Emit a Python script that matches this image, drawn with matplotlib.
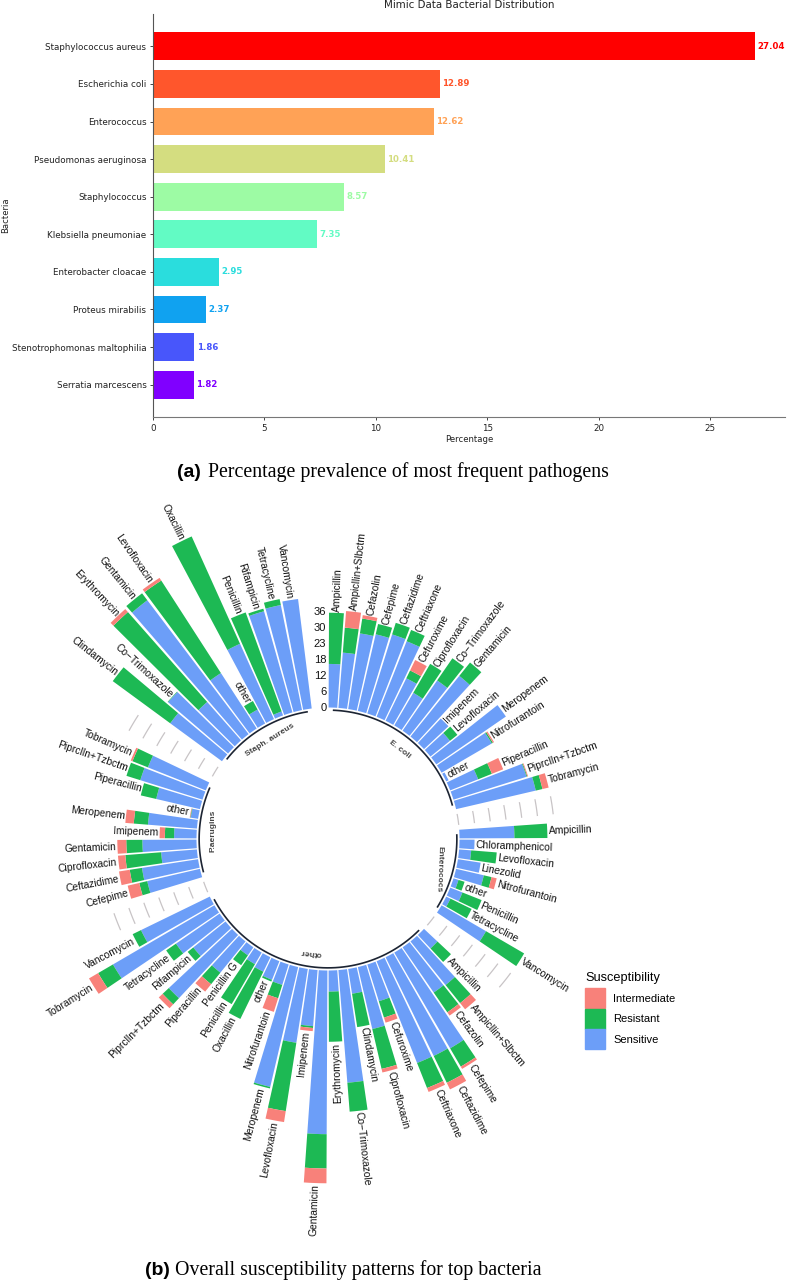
import numpy as np
import matplotlib
matplotlib.use("Agg")
import matplotlib.pyplot as plt
from matplotlib.patches import Patch

# top chart data
bacteria = ["Staphylococcus aureus", "Escherichia coli", "Enterococcus", "Pseudomonas aeruginosa",
            "Staphylococcus", "Klebsiella pneumoniae", "Enterobacter cloacae", "Proteus mirabilis",
            "Stenotrophomonas maltophilia", "Serratia marcescens"]
percentages = [27.04, 12.89, 12.62, 10.41, 8.57, 7.35, 2.95, 2.37, 1.86, 1.82]

ecoli_names = ["Ampicillin", "Ampicllin+Slbctm", "Cefazolin", "Cefepime", "Ceftazidime", "Ceftriaxone",
               "Cefuroxime", "Ciprofloxacin", "Co\u2212Trimoxazole", "Gentamicin", "Imipenem", "Levofloxacin",
               "Meropenem", "Nitrofurantoin", "other", "Piperacillin", "Piprclln+Tzbctm", "Tobramycin"]
ecoli_s = [16.5, 21, 29, 29.8, 31.4, 30.8, 17.9, 14.3, 23.1, 29.5, 12.7, 9.5, 32, 22, 1, 11.4, 29, 31]
ecoli_r = [19.4, 9.5, 5.7, 4, 4.6, 4.6, 3.3, 12.7, 10.2, 6.5, 0, 3.6, 0, 0.5, 0, 5.6, 0.3, 2.6]
ecoli_i = [0, 6.3, 1.3, 0, 0, 0, 4.4, 0, 0, 0, 0, 0, 0, 0.5, 0, 4.6, 0.3, 2.4]

entero_names = ["Ampicillin", "Chloramphenicol", "Levofloxacin", "Linezolid", "Nitrofurantoin", "other",
                "Penicillin", "Tetracycline", "Vancomycin"]
entero_s = [20.8, 5.7, 4.6, 8.7, 10.8, 2, 5, 1.8, 19.5]
entero_r = [12.5, 0, 9.7, 0, 3, 2.4, 7.8, 8.9, 16.7]
entero_i = [0, 0, 0, 0, 2, 0, 0, 0, 0]

other_names = ["Ampicillin", "Ampicllin+Slbctm", "Cefazolin", "Cefepime", "Ceftazidime", "Ceftriaxone",
               "Cefuroxime", "Ciprofloxacin", "Clindamycin", "Co\u2212Trimoxazole", "Erythromycin", "Gentamicin",
               "Imipenem", "Levofloxacin", "Meropenem", "Nitrofurantoin", "other", "Oxacillin", "Penicillin",
               "Penicillin G", "Piperacillin", "Piprclln+Tzbctm", "Rifampicin", "Tetracycline", "Tobramycin",
               "Vancomycin"]
other_s = [7, 21.2, 20.8, 42, 41.6, 41.5, 14.6, 24.1, 9.5, 42.8, 8, 62, 21.3, 28.3, 46.6, 8.1, 7.6, 6.1, 5.1,
           3.7, 15.2, 32.8, 15.7, 20.1, 44.5, 29]
other_r = [7, 8.8, 9.1, 8, 11.3, 10.2, 6.5, 15.5, 12.8, 11, 19, 13, 0.7, 26.2, 0.6, 5.3, 0.7, 19.9, 17.5,
           4.5, 5.6, 3.2, 2.7, 4.5, 6.5, 3.5]
other_i = [0, 3, 1.5, 1, 2.8, 1.6, 2, 1.4, 0, 0, 0, 5.6, 1.2, 4.2, 0, 5.4, 0, 0, 0, 0, 3.6, 2, 0, 0, 4, 0]

paer_names = ["Cefepime", "Ceftazidime", "Ciprofloxacin", "Gentamicin", "Imipenem", "Meropenem", "other",
              "Piperacillin", "Piprclln+Tzbctm", "Tobramycin"]
paer_s = [20.5, 21.5, 13.6, 20.5, 8.5, 18.6, 2.8, 17, 24.7, 23.6]
paer_r = [3.1, 4.7, 13.6, 6.1, 3.5, 5.4, 0.2, 6, 5.5, 6.3]
paer_i = [4.5, 4.1, 2.8, 3.4, 2, 3.2, 0.2, 0, 0, 0.7]

staph_names = ["Clindamycin", "Co\u2212Trimoxazole", "Erythromycin", "Gentamicin", "Levofloxacin", "other",
               "Oxacillin", "Penicillin", "Rifampicin", "Tetracycline", "Vancomycin"]
staph_s = [24.3, 29.9, 19.4, 63.6, 25, 6, 31.3, 1.6, 39.8, 40.6, 41.8]
staph_r = [27, 0.2, 45.4, 3.3, 41.7, 3.7, 44.6, 39.9, 1, 2.3, 0]
staph_i = [0, 0, 1.5, 0, 1.2, 0, 0, 0, 0, 0, 0]

group_labels = ["E. coli", "Enterococs", "other", "P.aerugins", "Staph. aureus"]
group_rot = [-38, -92, 174, 90, 32]
r_ticks = [0, 6, 12, 18, 24, 30, 36]
r_tick_labels = ["0", "6", "12", "18", "23", "30", "36"]
sus_labels = ["Intermediate", "Resistant", "Sensitive"]
sus_colors = ["#F8817A", "#1DB954", "#6C9EF8"]

W, H = 787, 1280
fig = plt.figure(figsize=(W / 100, H / 100), dpi=100)
sans = ["Liberation Sans", "DejaVu Sans"]

# (a) bar chart
ax = fig.add_axes([153 / W, 1 - 417 / H, (785 - 153) / W, (417 - 14) / H])
colors = plt.cm.rainbow(np.linspace(1, 0, len(bacteria)))
ypos = np.arange(len(bacteria))
ax.barh(ypos, percentages, height=0.74, color=colors)
for y, p, c in zip(ypos, percentages, colors):
    ax.text(p + 0.1, y, "%.2f" % p, color=c, fontsize=6.2, fontweight="bold", va="center")
ax.set_yticks(ypos)
ax.set_yticklabels(bacteria)
ax.invert_yaxis()
ax.set_ylim(9 + 0.86, -0.86)
ax.set_xlim(0, 28.37)
ax.tick_params(labelsize=6.3, length=2.5, width=0.7, pad=2.2, labelcolor="#222222", color="#444444")
ax.spines["top"].set_visible(False)
ax.spines["right"].set_visible(False)
ax.spines["left"].set_color("#555555")
ax.spines["bottom"].set_color("#777777")
ax.set_xlabel("Percentage", fontsize=6.1, labelpad=2, color="#222222")
ax.set_ylabel("Bacteria", fontsize=6.1, labelpad=1, color="#222222")
ax.set_title("Mimic Data Bacterial Distribution", fontsize=7.4, pad=4, color="#222222")

# (b) circular stacked bars
scale = 2.64          # px per unit
r0 = 131.5 / scale    # hole radius
rmax = 85
R = (rmax + r0) * scale
cx, cy = 328, 839
pax = fig.add_axes([(cx - R) / W, 1 - (cy + R) / H, 2 * R / W, 2 * R / H], projection="polar")
pax.set_theta_zero_location("N")
pax.set_theta_direction(-1)
pax.set_ylim(-r0, rmax)
pax.set_axis_off()

groups = [(ecoli_names, ecoli_s, ecoli_r, ecoli_i),
          (entero_names, entero_s, entero_r, entero_i),
          (other_names, other_s, other_r, other_i),
          (paer_names, paer_s, paer_r, paer_i),
          (staph_names, staph_s, staph_r, staph_i)]
gaps = [2, 2, 2, 2.4, 1.6]
n_slots = sum(len(g[0]) for g in groups) + sum(gaps)
step = 2 * np.pi / n_slots

slot = 0
for gi, (names, s, r, i) in enumerate(groups):
    s, r, i = np.array(s), np.array(r), np.array(i)
    theta = (slot + np.arange(len(names)) + 0.5) * step
    pax.bar(theta, s, width=step * 0.88, color=sus_colors[2], linewidth=0)
    pax.bar(theta, r, width=step * 0.88, bottom=s, color=sus_colors[1], linewidth=0)
    pax.bar(theta, i, width=step * 0.88, bottom=s + r, color=sus_colors[0], linewidth=0)

    for t, name, top in zip(theta, names, s + r + i):
        deg = np.degrees(t)
        if deg < 175:
            rot, ha = 90 - deg, "left"
        else:
            rot, ha = 270 - deg, "right"
        pax.text(t, top + 0.5, name, rotation=rot, rotation_mode="anchor", ha=ha, va="center",
                 fontsize=7.4, family=sans, color="#111111")

    # arc under the group and its name
    arc = np.linspace(theta[0], theta[-1], 60)
    pax.plot(arc, np.full_like(arc, -1.0), color="#1c2433", lw=1.2, solid_capstyle="butt")
    pax.text(theta.mean(), -6.2, group_labels[gi], rotation=group_rot[gi], rotation_mode="anchor",
             ha="center", va="center", fontsize=6, fontweight="bold", family=sans, color="#444444")

    # scale dashes in the gap after the group (none before the first group)
    slot += len(names)
    if gi < len(groups) - 1:
        mid = (slot + gaps[gi] / 2) * step
        for v in r_ticks:
            tt = np.linspace(mid - step * 0.5, mid + step * 0.5, 8)
            pax.plot(tt, np.full_like(tt, v), color="#c8c4c6", lw=0.9)
    slot += gaps[gi]

for v, lab in zip(r_ticks, r_tick_labels):
    pax.text(np.radians(-0.5), v, lab, ha="right", va="center", fontsize=8, family=sans, color="#111111")

handles = [Patch(color=c, label=l) for c, l in zip(sus_colors, sus_labels)]
leg = fig.legend(handles=handles, loc="upper left", bbox_to_anchor=(585 / W, 1 - 972 / H), frameon=False,
                 title="Susceptibility", title_fontproperties={"family": "Liberation Sans", "size": 9.2},
                 prop={"family": "Liberation Sans", "size": 8}, alignment="left",
                 handlelength=1.8, handleheight=2.39, labelspacing=0.05, handletextpad=0.72,
                 borderpad=0, borderaxespad=0)
leg._legend_box.sep = 3

# captions
fig.text(177 / W, 1 - 477 / H, "(a)", family=sans, fontweight="bold", fontsize=14)
fig.text(207.5 / W, 1 - 477 / H, "Percentage prevalence of most frequent pathogens",
         family="Liberation Serif", fontsize=14.3)
fig.text(145 / W, 1 - 1275 / H, "(b)", family=sans, fontweight="bold", fontsize=14)
fig.text(175 / W, 1 - 1275 / H, "Overall susceptibility patterns for top bacteria",
         family="Liberation Serif", fontsize=14.3)

fig.savefig("out.png", dpi=100)
